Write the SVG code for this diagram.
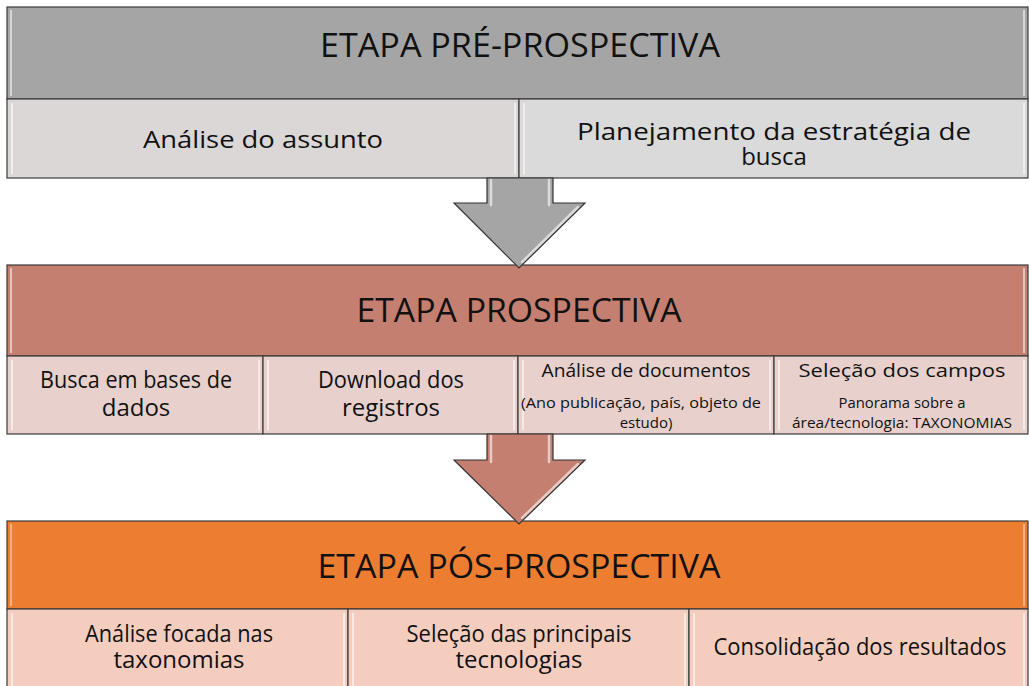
<svg xmlns="http://www.w3.org/2000/svg" width="1029" height="686" viewBox="0 0 1029 686">
<style>
.bd{stroke:#3a3a3a;stroke-width:1.2}
.t{font-family:"Open Sans","Noto Sans",sans-serif;fill:#111;text-anchor:middle}
.h{font-size:33px}
.s{font-size:24px}
.m{font-size:19px}
.sm{font-size:15px}
.hl{fill:#fff;opacity:0.55}
.ar{stroke:#333;stroke-width:1.2;stroke-linejoin:miter}
.ahl{stroke:#fff;stroke-width:2.5;opacity:0.6;fill:none;stroke-linecap:round}
</style>
<rect width="1029" height="686" fill="#fff"/>

<g id="pre">
  <rect x="7" y="7" width="1021" height="92" fill="#A5A5A5" class="bd"/>
  <rect x="10" y="10" width="2" height="86" class="hl"/>
  <rect x="1023" y="10" width="2" height="86" class="hl"/>
  <text class="t h" x="520" y="57" textLength="400" lengthAdjust="spacingAndGlyphs">ETAPA PRÉ-PROSPECTIVA</text>
</g>
<g id="pre-analise">
  <rect x="7" y="99" width="512" height="79" fill="#DBD7D7" class="bd"/>
  <rect x="11" y="103" width="2" height="71" class="hl"/>
  <rect x="514" y="103" width="2" height="71" class="hl"/>
  <text class="t s" x="263" y="148" textLength="240" lengthAdjust="spacingAndGlyphs">Análise do assunto</text>
</g>
<g id="pre-planejamento">
  <rect x="519" y="99" width="509" height="79" fill="#DADADA" class="bd"/>
  <rect x="523" y="103" width="2" height="71" class="hl"/>
  <rect x="1023" y="103" width="2" height="71" class="hl"/>
  <text class="t s" x="774" y="140" textLength="394" lengthAdjust="spacingAndGlyphs">Planejamento da estratégia de</text>
  <text class="t s" x="774" y="165">busca</text>
</g>

<g id="pro">
  <rect x="7" y="265" width="1021" height="91" fill="#C47F70" class="bd"/>
  <rect x="10" y="268" width="2" height="85" class="hl"/>
  <rect x="1023" y="268" width="2" height="85" class="hl"/>
  <text class="t h" x="519" y="322" textLength="325" lengthAdjust="spacingAndGlyphs">ETAPA PROSPECTIVA</text>
</g>
<g id="pro-busca">
  <rect x="7" y="356" width="256" height="78" fill="#E8D1CD" class="bd"/>
  <rect x="11" y="360" width="2" height="70" class="hl"/>
  <rect x="258" y="360" width="2" height="70" class="hl"/>
  <text class="t s" x="136" y="388" textLength="192" lengthAdjust="spacingAndGlyphs">Busca em bases de</text>
  <text class="t s" x="136" y="416">dados</text>
</g>
<g id="pro-download">
  <rect x="263" y="356" width="255" height="78" fill="#E8D1CD" class="bd"/>
  <rect x="267" y="360" width="2" height="70" class="hl"/>
  <rect x="513" y="360" width="2" height="70" class="hl"/>
  <text class="t s" x="391" y="388" textLength="146" lengthAdjust="spacingAndGlyphs">Download dos</text>
  <text class="t s" x="391" y="416">registros</text>
</g>
<g id="pro-documentos">
  <rect x="518" y="356" width="256" height="78" fill="#E8D1CD" class="bd"/>
  <rect x="522" y="360" width="2" height="70" class="hl"/>
  <rect x="769" y="360" width="2" height="70" class="hl"/>
  <text class="t m" x="646" y="377" textLength="209" lengthAdjust="spacingAndGlyphs">Análise de documentos</text>
  <text class="t sm" x="641" y="408" textLength="240" lengthAdjust="spacingAndGlyphs">(Ano publicação, país, objeto de</text>
  <text class="t sm" x="646" y="428">estudo)</text>
</g>
<g id="pro-campos">
  <rect x="774" y="356" width="254" height="78" fill="#E8D1CD" class="bd"/>
  <rect x="778" y="360" width="2" height="70" class="hl"/>
  <rect x="1023" y="360" width="2" height="70" class="hl"/>
  <text class="t m" x="902" y="377" textLength="207" lengthAdjust="spacingAndGlyphs">Seleção dos campos</text>
  <text class="t sm" x="902" y="408" textLength="127" lengthAdjust="spacingAndGlyphs">Panorama sobre a</text>
  <text class="t sm" x="902" y="428" textLength="220" lengthAdjust="spacingAndGlyphs">área/tecnologia: TAXONOMIAS</text>
</g>

<g id="pos">
  <rect x="7" y="521" width="1021" height="88" fill="#ED7D31" class="bd"/>
  <rect x="10" y="524" width="2" height="82" fill="#fff" opacity="0.4"/>
  <rect x="1023" y="524" width="2" height="82" fill="#fff" opacity="0.4"/>
  <text class="t h" x="519" y="578" textLength="403" lengthAdjust="spacingAndGlyphs">ETAPA PÓS-PROSPECTIVA</text>
</g>
<g id="pos-analise">
  <rect x="7" y="609" width="341" height="78" fill="#F4CDBF" class="bd"/>
  <rect x="11" y="613" width="2" height="73" class="hl"/>
  <rect x="343" y="613" width="2" height="73" class="hl"/>
  <text class="t s" x="179" y="642" textLength="188" lengthAdjust="spacingAndGlyphs">Análise focada nas</text>
  <text class="t s" x="179" y="668">taxonomias</text>
</g>
<g id="pos-selecao">
  <rect x="348" y="609" width="341" height="78" fill="#F4CDBF" class="bd"/>
  <rect x="352" y="613" width="2" height="73" class="hl"/>
  <rect x="684" y="613" width="2" height="73" class="hl"/>
  <text class="t s" x="519" y="642" textLength="225" lengthAdjust="spacingAndGlyphs">Seleção das principais</text>
  <text class="t s" x="519" y="668">tecnologias</text>
</g>
<g id="pos-consolidacao">
  <rect x="689" y="609" width="339" height="78" fill="#F4CDBF" class="bd"/>
  <rect x="693" y="613" width="2" height="73" class="hl"/>
  <rect x="1023" y="613" width="2" height="73" class="hl"/>
  <text class="t s" x="860" y="655" textLength="293" lengthAdjust="spacingAndGlyphs">Consolidação dos resultados</text>
</g>

<g id="connectors">
  <polygon class="ar" fill="#A5A5A5" points="487,178 553,178 553,203 585,203 519,268 454,203 487,203"/>
  <line class="ahl" x1="491" y1="180" x2="491" y2="205"/>
  <line class="ahl" x1="549" y1="180" x2="549" y2="205"/>
  <line class="ahl" x1="578" y1="207" x2="522" y2="262"/>
  <polygon class="ar" fill="#C47F70" points="487,434 553,434 553,460 585,460 519,524 454,460 487,460"/>
  <line class="ahl" x1="491" y1="436" x2="491" y2="462"/>
  <line class="ahl" x1="549" y1="436" x2="549" y2="462"/>
  <line class="ahl" x1="578" y1="464" x2="522" y2="518"/>
</g>
</svg>
